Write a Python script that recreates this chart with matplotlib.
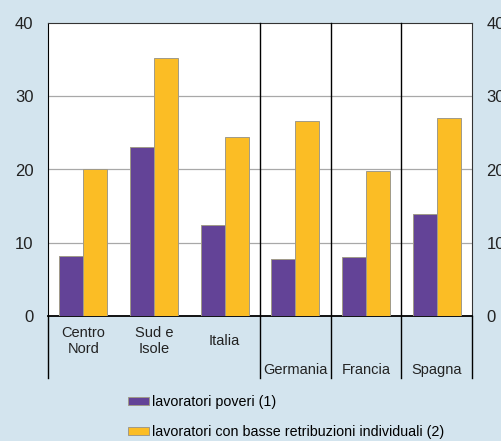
"""
Lavoratori poveri e con basse retribuzioni: confronto aree italiane e paesi europei
"""

import matplotlib.pyplot as plt
import numpy as np

plt.rcParams["font.family"] = ["Liberation Sans", "DejaVu Sans"]

# --- data ---
categories = ["Centro\nNord", "Sud e\nIsole", "Italia", "Germania", "Francia", "Spagna"]
poveri = [8.2, 23.1, 12.4, 7.8, 8.0, 13.9]
basse_retribuzioni = [20.0, 35.2, 24.4, 26.6, 19.8, 27.0]
yticks = [0, 10, 20, 30, 40]

LABEL_POVERI = "lavoratori poveri (1)"
LABEL_BASSE = "lavoratori con basse retribuzioni individuali (2)"

# --- style ---
BG = "#d3e4ee"
PURPLE = "#634397"
YELLOW = "#fbbd25"
EDGE = "#a09a88"
W, H = 502, 441

fig = plt.figure(figsize=(W / 100, H / 100), dpi=100, facecolor=BG)
ax = fig.add_axes([48 / W, (H - 316) / H, 424 / W, (316 - 23) / H])

x = np.arange(len(categories))
width = 0.34
b1 = ax.bar(x - width / 2, poveri, width, color=PURPLE, edgecolor=EDGE, linewidth=0.7,
            label=LABEL_POVERI, zorder=3)
b2 = ax.bar(x + width / 2, basse_retribuzioni, width, color=YELLOW, edgecolor=EDGE, linewidth=0.7,
            label=LABEL_BASSE, zorder=3)

ax.set_xlim(-0.5, len(categories) - 0.5)
ax.set_ylim(0, 40)
ax.set_yticks(yticks)
ax.tick_params(axis="y", length=0, pad=10.5, labelsize=12, colors="#222222")
ax.set_xticks([])
for v in yticks[1:-1]:
    ax.axhline(v, color="#a8a8a8", linewidth=0.9, zorder=1)

ax.spines["left"].set_color("black")
ax.spines["bottom"].set_color("black")
ax.spines["bottom"].set_linewidth(1.3)
ax.spines["top"].set_color("#333333")
ax.spines["right"].set_color("#333333")

# right-hand duplicate axis labels (cut by the figure edge, as in the source)
ax2 = ax.twinx()
ax2.set_ylim(ax.get_ylim())
ax2.set_yticks(yticks)
ax2.tick_params(axis="y", length=0, pad=10.5, labelsize=12, colors="#222222")
for s in ax2.spines.values():
    s.set_visible(False)

# separators extending below the axis into the label band
trans = ax.get_xaxis_transform()
low = -(378 - 316) / (316 - 23)
for xs in [-0.5, 2.5, 3.5, 4.5, 5.5]:
    top = 1.0 if 2 < xs < 5 else 0.0
    ax.plot([xs, xs], [low, top], color="black", linewidth=1.0, transform=trans,
            clip_on=False, zorder=4)

# category labels
for i, cat in enumerate(categories):
    if i < 3:
        ax.text(i, -0.085, cat, transform=trans, ha="center", va="center",
                fontsize=10.5, linespacing=1.2, color="#222222")
    else:
        ax.text(i, -0.183, cat, transform=trans, ha="center", va="center",
                fontsize=10.5, color="#222222")

fig.legend(handles=[b1, b2], labels=[LABEL_POVERI, LABEL_BASSE], loc="upper left",
           bbox_to_anchor=(128 / W, 1 - 395 / H), frameon=False, fontsize=10.3,
           borderpad=0, borderaxespad=0, handlelength=1.45, handleheight=0.5,
           handletextpad=0.2, labelspacing=1.1)

fig.savefig("out.png", dpi=100, facecolor=BG)
